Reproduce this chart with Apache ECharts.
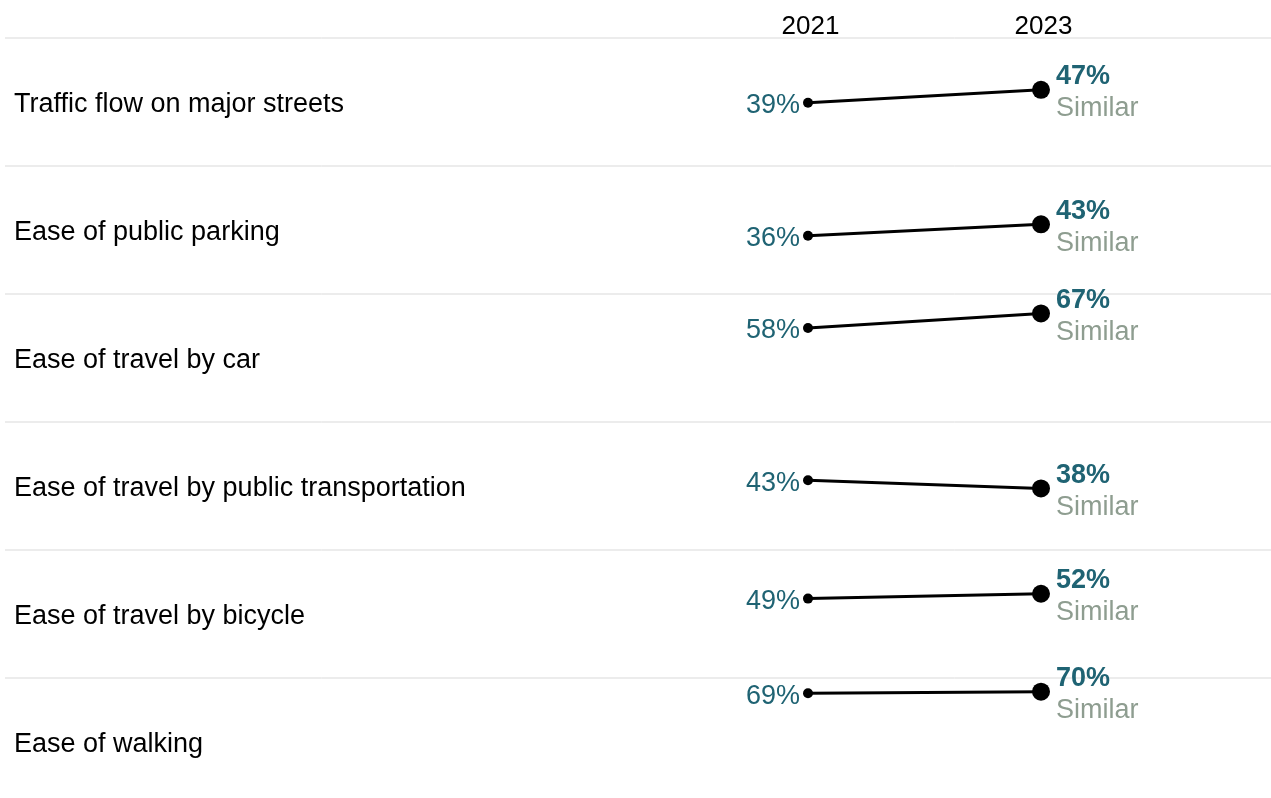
<!DOCTYPE html>
<html>
<head>
<meta charset="utf-8">
<script src="https://cdn.jsdelivr.net/npm/echarts@6/dist/echarts.min.js"></script>
<style>
  html, body {margin: 0; padding: 0; background: #fff;}
  #chart {width: 1271px; height: 798px;}
</style>
</head>
<body>
<div id="chart"></div>
<script>
  var years = ['2021', '2023'];
  var categories = [
    'Traffic flow on major streets',
    'Ease of public parking',
    'Ease of travel by car',
    'Ease of travel by public transportation',
    'Ease of travel by bicycle',
    'Ease of walking'
  ];
  var values2021 = [39, 36, 58, 43, 49, 69];
  var values2023 = [47, 43, 67, 38, 52, 70];
  var changeText = ['Similar', 'Similar', 'Similar', 'Similar', 'Similar', 'Similar'];

  var font = "'Liberation Sans', Arial, sans-serif";
  var teal = '#1f6373';
  var gray = '#8e9d90';
  var rowTop = 38, rowH = 128;

  var chart = echarts.init(document.getElementById('chart'));

  var grids = [], xAxes = [], yAxes = [], series = [], graphics = [];

  categories.forEach(function (name, i) {
    var top = rowTop + i * rowH;
    grids.push({left: 808, width: 233, top: top, height: rowH});
    xAxes.push({
      gridIndex: i,
      type: 'category',
      data: years,
      boundaryGap: false,
      position: 'top',
      axisLine: {show: false},
      axisTick: {show: false},
      splitLine: {show: false},
      axisLabel: {
        show: i === 0,
        margin: -2,
        padding: [0, 0, 0, 5],
        color: '#000',
        fontSize: 26,
        fontFamily: font
      }
    });
    yAxes.push({gridIndex: i, type: 'value', min: 0, max: 79, show: false});
    series.push({
      type: 'line',
      xAxisIndex: i,
      yAxisIndex: i,
      silent: true,
      lineStyle: {color: '#000', width: 3},
      itemStyle: {color: '#000'},
      symbol: 'circle',
      data: [
        {
          value: values2021[i],
          symbolSize: 10,
          label: {
            show: true,
            position: 'left',
            distance: 3,
            offset: [0, 3],
            formatter: '{c}%',
            color: teal,
            fontSize: 27,
            fontFamily: font
          }
        },
        {
          value: values2023[i],
          symbolSize: 18,
          label: {
            show: true,
            position: 'right',
            distance: 6,
            offset: [0, 3],
            formatter: '{v|' + values2023[i] + '%}\n{s|' + changeText[i] + '}',
            rich: {
              v: {color: teal, fontSize: 27, fontWeight: 'bold', fontFamily: font, lineHeight: 32},
              s: {color: gray, fontSize: 27, fontFamily: font, lineHeight: 32}
            }
          }
        }
      ]
    });
    graphics.push({
      type: 'line',
      shape: {x1: 5, y1: top, x2: 1271, y2: top},
      style: {stroke: '#d9d9d9', lineWidth: 1}
    });
    graphics.push({
      type: 'text',
      style: {
        x: 14,
        y: top + 67,
        verticalAlign: 'middle',
        text: name,
        fill: '#000',
        font: '27px ' + font
      }
    });
  });

  chart.setOption({
    animation: false,
    grid: grids,
    xAxis: xAxes,
    yAxis: yAxes,
    series: series,
    graphic: graphics
  });
</script>
</body>
</html>
